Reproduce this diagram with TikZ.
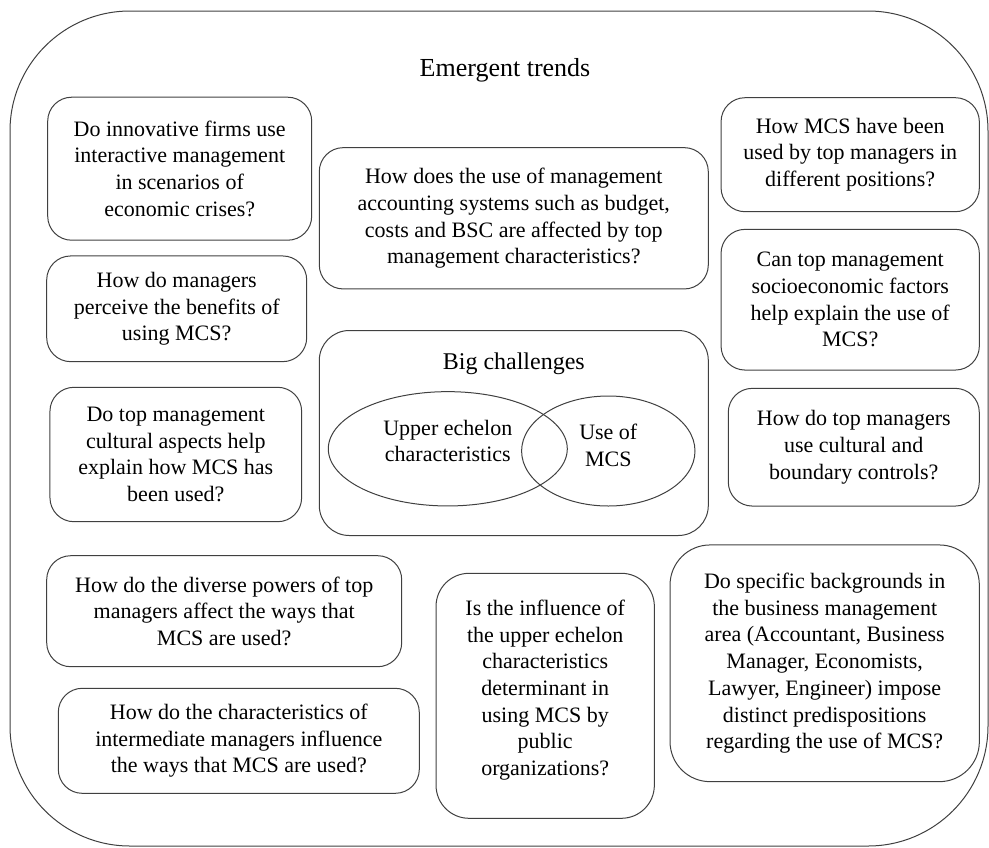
\documentclass[tikz,border=0pt]{standalone}
\usepackage{fontspec}
\setmainfont{Liberation Serif}
\usepackage{tikz}
\usetikzlibrary{positioning,shapes}

\begin{document}
\begin{tikzpicture}[x=1pt,y=-1pt,
                    basenode/.style={draw=black!75,line width=1pt,align=center,inner sep=0pt,font={\rmfamily\fontsize{22}{26.7}\selectfont}},
                    question/.style={basenode,rectangle,rounded corners=24pt},
                    challenge/.style={basenode,rectangle,rounded corners=30pt},
                    echelon/.style={basenode,ellipse}]
  \useasboundingbox (0,0) rectangle (989,847);
  \node[basenode,rectangle,rounded corners=120pt,minimum width=978,minimum height=835] (trends) at (499,428.5) {};
  \node[font={\rmfamily\fontsize{26}{30}\selectfont}] (trends-title) at (505,70) {Emergent trends};
  % left column
  \node[question,minimum width=264,minimum height=143] (innov-firms) at (179.7,168.7) {Do innovative firms use\\interactive management\\in scenarios of\\economic crises?};
  \node[question,minimum width=260,minimum height=105.7] (perceive) at (176.7,308.8) {How do managers\\perceive the benefits of\\using MCS?};
  \node[question,minimum width=251.7,minimum height=134.4] (cultural-aspects) at (175.8,454.5) {Do top management\\cultural aspects help\\explain how MCS has\\been used?};
  \node[question,minimum width=355,minimum height=111] (powers) at (224.2,611.2) {How do the diverse powers of top\\managers affect the ways that\\MCS are used?};
  \node[question,minimum width=361,minimum height=105] (intermediate) at (238.8,740.8) {How do the characteristics of\\intermediate managers influence\\the ways that MCS are used?};
  % centre
  \node[question,minimum width=389,minimum height=141.3] (accounting) at (513.8,218.3) {How does the use of management\\accounting systems such as budget,\\costs and BSC are affected by top\\management characteristics?};
  \node[challenge,minimum width=389,minimum height=205] (big) at (513.8,433) {};
  \node[font={\rmfamily\fontsize{24}{28}\selectfont}] (big-title) at (513.8,364) {Big challenges};
  \node[echelon,minimum width=239,minimum height=114.3] (upper) at (447.8,448.8) {Upper echelon\\characteristics\\[-10.7pt]};
  \node[echelon,minimum width=173.4,minimum height=110] (use-mcs) at (608.3,451) {Use of\\MCS\\[-15.7pt]};
  \node[question,rounded corners=33pt,minimum width=218.3,minimum height=245] (public) at (545.2,695.8) {Is the influence of\\the upper echelon\\characteristics\\determinant in\\using MCS by\\public\\organizations?\\[-10.7pt]};
  % right column
  \node[question,minimum width=258.3,minimum height=114] (positions) at (850.2,154.7) {How MCS have been\\used by top managers in\\different positions?};
  \node[question,minimum width=258.3,minimum height=140.7] (socioeconomic) at (850.2,299.7) {Can top management\\socioeconomic factors\\help explain the use of\\MCS?};
  \node[question,minimum width=251,minimum height=117.7] (boundary) at (853.8,447.2) {How do top managers\\use cultural and\\boundary controls?};
  \node[question,rounded corners=40pt,minimum width=309.3,minimum height=236.7] (backgrounds) at (824.7,663.3) {Do specific backgrounds in\\the business management\\area (Accountant, Business\\Manager, Economists,\\Lawyer, Engineer) impose\\distinct predispositions\\regarding the use of MCS?};
\end{tikzpicture}
\end{document}
